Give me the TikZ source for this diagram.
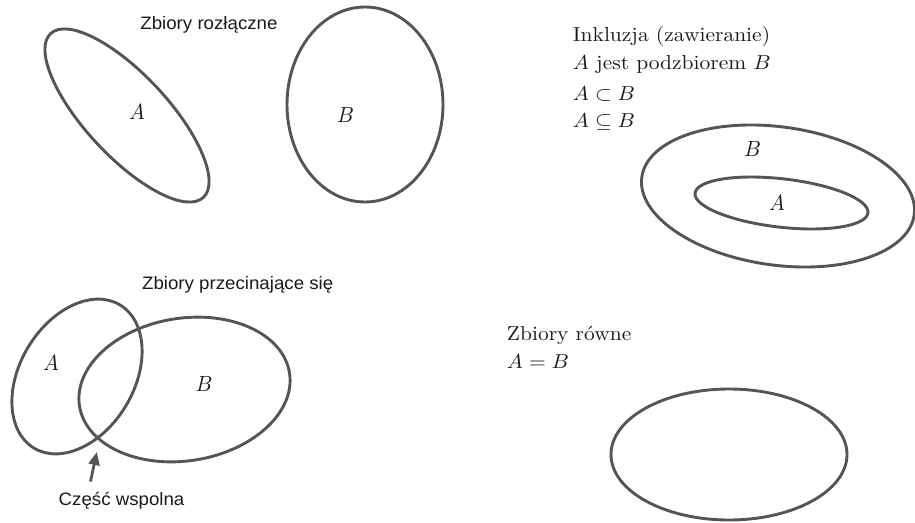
\documentclass[tikz,border=0pt]{standalone}
\usepackage{fontspec}
\newfontfamily\sansfont{Liberation Sans}
\usetikzlibrary{arrows.meta}
\definecolor{edge}{HTML}{555555}
\definecolor{ink}{HTML}{1A1A1A}
\begin{document}
\begin{tikzpicture}[x=1pt,y=-1pt,
  setline/.style={draw=edge,line width=2.9pt},
  lbl/.style={inner sep=0pt,xscale=2.1,yscale=2.2,text=ink},
  serif/.style={inner sep=0pt,anchor=base west,xscale=2.15,yscale=2.02,text=ink},
  sans/.style={inner sep=0pt,anchor=base west,xscale=1.87,yscale=1.8,text=ink,font=\sansfont},
  pointer/.style={draw=edge,line width=2.8pt,-{Triangle[length=13pt,width=11pt]}}]
\useasboundingbox (0,0) rectangle (915,522);

% Zbiory rozłączne
\node[sans] (t1) at (140,29) {Zbiory rozłączne};
\draw[setline,shift={(127,115.5)},rotate=-47] (0,0) ellipse [x radius=112,y radius=41];
\draw[setline] (365,104.5) ellipse [x radius=78,y radius=97.5];
\node[lbl] (a1) at (137,111.5) {$A$};
\node[lbl] (b1) at (345.5,114.5) {$B$};

% Zbiory przecinające się
\node[sans] (t2) at (141.7,289.3) {Zbiory przecinające się};
\draw[setline,shift={(77,376.5)},rotate=59] (0,0) ellipse [x radius=83.5,y radius=57];
\draw[setline,shift={(184.5,389.5)},rotate=9] (0,0) ellipse [x radius=106.3,y radius=71.3];
\node[lbl] (a2) at (51,363) {$A$};
\node[lbl] (b2) at (204,383.5) {$B$};
\node[sans] (t3) at (58.3,505) {Część wspolna};
\coordinate (tail) at (90.5,481.5);
\coordinate (tip) at (96.8,452);
\draw[pointer] (tail) -- (tip);

% Inkluzja
\node[serif] (i1) at (572.5,41) {Inkluzja (zawieranie)};
\node[serif] (i2) at (572.5,69) {$A$ jest podzbiorem $B$};
\node[serif] (i3) at (572.5,100) {$A\subset B$};
\node[serif] (i4) at (572.5,127) {$A\subseteq B$};
\draw[setline,shift={(778,196)},rotate=-7.9] (0,0) ellipse [x radius=137.5,y radius=69.1];
\draw[setline,shift={(781.5,203)},rotate=-6.5] (0,0) ellipse [x radius=87,y radius=24.2];
\node[lbl] (b3) at (752.5,149) {$B$};
\node[lbl] (a3) at (777,202.5) {$A$};

% Zbiory równe
\node[serif] (r1) at (506.5,340.7) {Zbiory równe};
\node[serif] (r2) at (506.5,368) {$A=B$};
\draw[setline] (729,454.5) ellipse [x radius=118,y radius=65.5];
\end{tikzpicture}
\end{document}
